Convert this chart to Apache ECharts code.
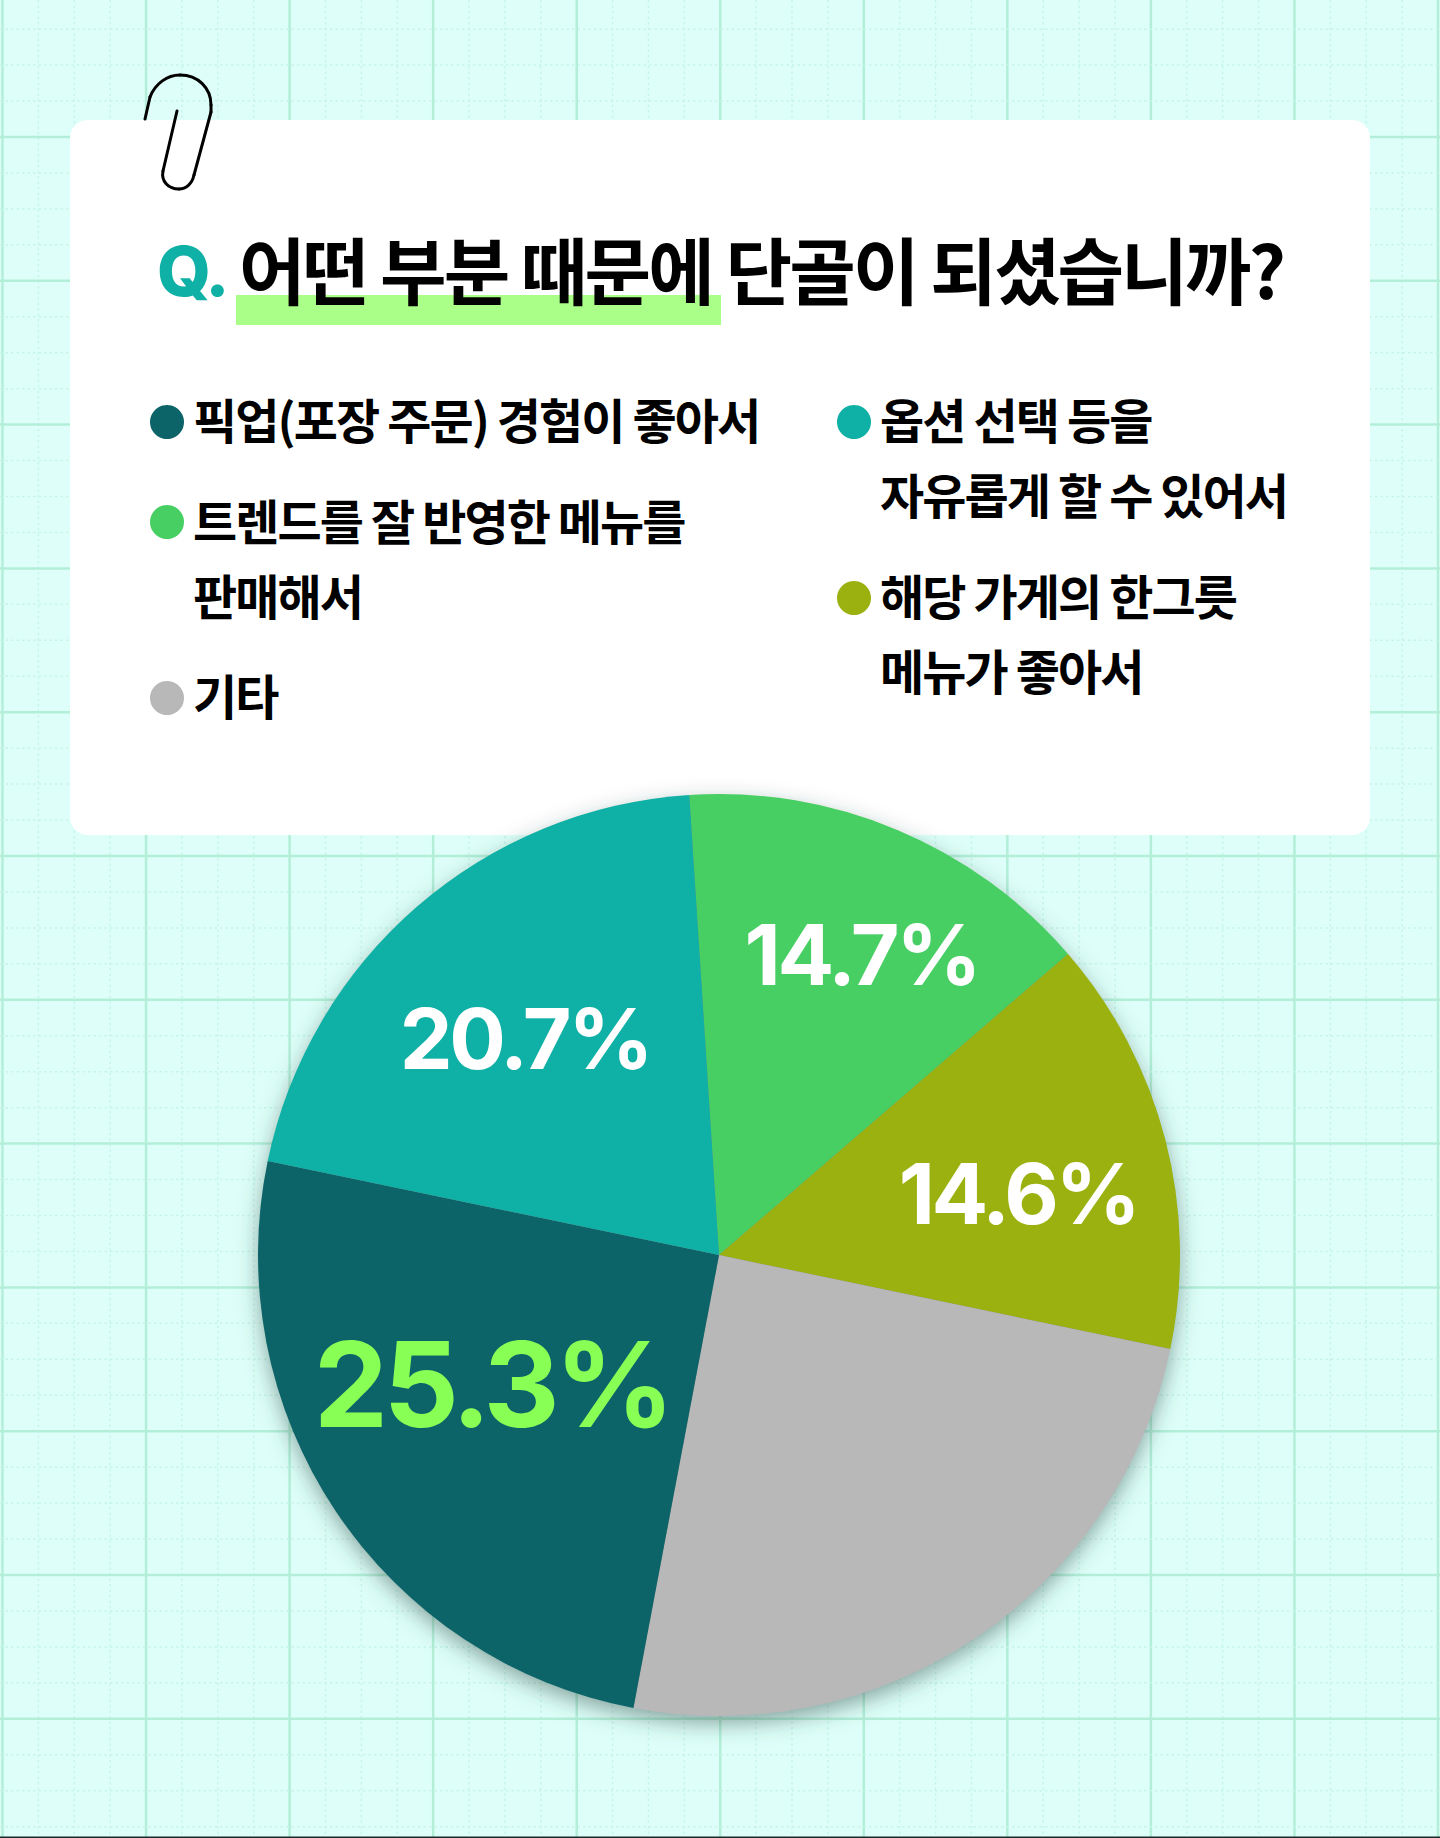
<!DOCTYPE html>
<html><head><meta charset="utf-8">
<script src="https://cdn.jsdelivr.net/npm/echarts@6/dist/echarts.min.js"></script>
<style>
html,body{margin:0;padding:0;background:#deFff9}
#c{width:1440px;height:1838px}
#c text{letter-spacing:-0.04em}
</style></head><body><div id="c"></div>
<script>
const question = '어떤 부분 때문에 단골이 되셨습니까?';
const questionMark = 'Q.';
const categories = ['트렌드를 잘 반영한 메뉴를 판매해서','해당 가게의 한그릇 메뉴가 좋아서','기타','픽업(포장 주문) 경험이 좋아서','옵션 선택 등을 자유롭게 할 수 있어서'];
const values = [14.7,14.6,24.7,25.3,20.7];
const colors = ['#48CF64','#9AB10F','#B8B8B8','#0C6468','#0FB0A5'];
const shownLabels = ['14.7%','14.6%','','25.3%','20.7%'];
const firstLines = ['트렌드를 잘 반영한 메뉴를','해당 가게의 한그릇','기타','픽업(포장 주문) 경험이 좋아서','옵션 선택 등을'];
const secondLines = ['판매해서','메뉴가 좋아서','','','자유롭게 할 수 있어서'];

const W=1440,H=1838,CX=719,CY=1255,R=461;
const dotPos=[[150,522],[837,598],[150,698],[150,422],[837,422]];
const firstLineY=[519,594,694,418,418];
const secondLineY=[594,669,0,0,493];
const labelSizes=[84,84,0,118,84];
const labelShift=[[52,-85],[73,-3],[0,0],[-33,-1],[-41,-40]];
const gfx=[];
const major='#B3EFD8', minor='#C6F5E8';
const stepX=143.55, stepY=143.8;
for(let i=0;i<Math.ceil(W/(stepX/4));i++){
  const x=2.5+i*stepX/4, isM=i%4===0;
  gfx.push({type:'line',silent:true,z:0,shape:{x1:x,y1:0,x2:x,y2:H},style:{stroke:isM?major:minor,lineWidth:isM?2.5:1.5,lineDash:isM?null:[2.5,3]}});
}
for(let i=0;i<Math.ceil(H/(stepY/4))+1;i++){
  const y=137+(i-3)*stepY/4, isM=(i-3)%4===0;
  gfx.push({type:'line',silent:true,z:0,shape:{x1:0,y1:y,x2:W,y2:y},style:{stroke:isM?major:minor,lineWidth:isM?2.5:1.5,lineDash:isM?null:[2.5,3]}});
}
gfx.push({type:'rect',silent:true,z:0,shape:{x:0,y:H-1.5,width:W,height:1.5},style:{fill:'#1b2b2b'}});
gfx.push({type:'rect',silent:true,z:1,shape:{x:70,y:120,width:1300,height:715,r:18},style:{fill:'#fff'}});
gfx.push({type:'rect',silent:true,z:1,shape:{x:236,y:295,width:485,height:30},style:{fill:'#AAFF88'}});
gfx.push({type:'circle',silent:true,z:1,shape:{cx:CX,cy:CY,r:R-1},style:{fill:'#888',shadowBlur:22,shadowColor:'rgba(40,70,65,0.5)',shadowOffsetX:0,shadowOffsetY:8}});
// paper clip
const clipStyle={stroke:'#000',lineWidth:3,fill:null,lineCap:'round'};
const clipLines=[[145,119,150,97],[211,112,194,175],[163,171,177,111]];
const clipCurves=[[150,97,155,84,167,75,180,75],[180,75,198,75,211,88,211,105],[211,105,211,107,211,110,211,112],[194,175,192,184,186,189,179,189],[179,189,168,189,161,181,163,171]];
clipLines.forEach(l=>gfx.push({type:'line',silent:true,z:3,shape:{x1:l[0],y1:l[1],x2:l[2],y2:l[3]},style:clipStyle}));
clipCurves.forEach(c=>gfx.push({type:'bezierCurve',silent:true,z:3,shape:{x1:c[0],y1:c[1],cpx1:c[2],cpy1:c[3],cpx2:c[4],cpy2:c[5],x2:c[6],y2:c[7]},style:clipStyle}));
// legend entry text, aligned to the first line and its continuation
const FONT='"Noto Sans CJK KR"';
function entryText(t,x,y){
  gfx.push({type:'text',silent:true,z:5,x:x,y:y,style:{text:t,fill:'#000',font:'700 48px '+FONT,textAlign:'left',textVerticalAlign:'middle'}});
}
firstLines.forEach((t,i)=>entryText(t,dotPos[i][0]+43,firstLineY[i]));
secondLines.forEach((t,i)=>{ if(t) entryText(t,dotPos[i][0]+43,secondLineY[i]); });

const legends=categories.map((name,i)=>({
  data:[name],orient:'horizontal',left:dotPos[i][0],top:dotPos[i][1]-17,padding:0,
  icon:'circle',itemWidth:34,itemHeight:34,selectedMode:false,
  formatter:()=>'',
  textStyle:{fontFamily:FONT,fontSize:10,lineHeight:10}
}));

const chart=echarts.init(document.getElementById('c'),null,{renderer:'svg',width:W,height:H});
chart.setOption({
  animation:false,
  backgroundColor:'#DEFFF9',
  title:[
    {text:questionMark,left:157,top:226,padding:0,textStyle:{fontFamily:'Inter',fontWeight:800,fontSize:69,color:'#0FB0A5',lineHeight:90}},
    {text:question,left:239,top:222,padding:0,textStyle:{fontFamily:FONT,fontWeight:700,fontSize:72.4,color:'#000',lineHeight:90}}
  ],
  legend:legends,
  graphic:{elements:gfx},
  series:[{
    type:'pie',z:2,center:[CX,CY],radius:[0,R],startAngle:93.7,clockwise:true,
    avoidLabelOverlap:false,silent:true,
    label:{show:true,position:'inside',formatter:p=>shownLabels[p.dataIndex],fontFamily:'Inter',fontWeight:700,color:'#fff'},
    labelLine:{show:false},
    labelLayout:p=>({dx:labelShift[p.dataIndex][0],dy:labelShift[p.dataIndex][1]}),
    data:categories.map((n,i)=>({name:n,value:values[i],itemStyle:{color:colors[i]},
      label:{show:!!shownLabels[i],fontSize:labelSizes[i]||10,color:i===3?'#88FF55':'#fff'}}))
  }]
});
</script></body></html>
